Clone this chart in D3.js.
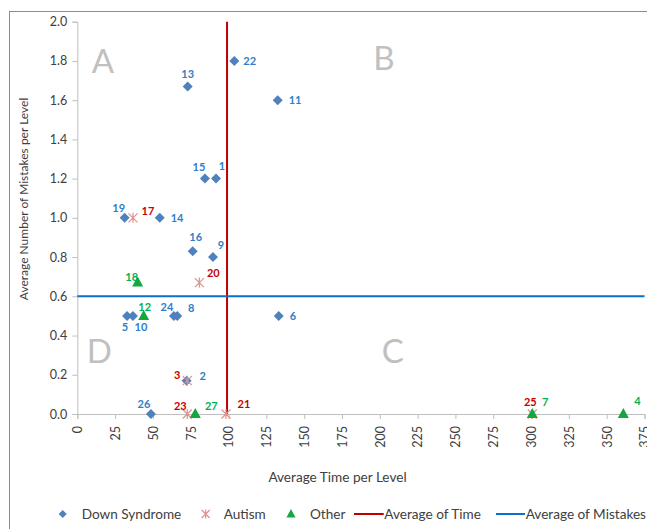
<!DOCTYPE html>
<html><head><meta charset="utf-8">
<script src="https://cdn.jsdelivr.net/npm/d3@7"></script>
<style>body{margin:0;background:#fff}svg{display:block;font-family:Lato,"Open Sans",sans-serif}</style>
</head><body><svg id="c" width="647" height="529"></svg>
<script>
// Data: [id, avgTime, avgMistakes]
const downSyndrome = [
  [22,103.8,1.80],[13,73,1.67],[11,132.5,1.60],[15,84.4,1.20],[1,91.7,1.20],
  [19,31.3,1.00],[14,54.5,1.00],[16,76.3,0.83],[9,89.7,0.80],[5,32.9,0.50],
  [10,36.8,0.50],[24,63.9,0.50],[8,66.1,0.50],[6,133.2,0.50],[2,72.3,0.17],[26,48.7,0.00]
];
const autism = [[17,36.8,1.00],[20,80.7,0.67],[3,72.7,0.17],[23,72.7,0.00],[21,98.3,0.00],[25,300.8,0.00]];
const other = [[18,39.9,0.67],[12,43.9,0.50],[27,78,0.00],[7,300.8,0.00],[4,361,0.00]];
const averageTime = 99;
const averageMistakes = 0.6;
const xTicks = d3.range(0,376,25);
const yTicks = [0,0.2,0.4,0.6,0.8,1.0,1.2,1.4,1.6,1.8,2.0];
const quadrants = [["A",17,1.795],["B",202.8,1.815],["C",208.5,0.32],["D",14.5,0.32]];
// label layout offsets (pixels) by id
const labelOffsets = {22:[9,0,'start'],13:[0,-12,'middle'],11:[11,0,'start'],15:[-6,-11,'middle'],1:[6,-12,'middle'],
 19:[-6,-10,'middle'],14:[11,0,'start'],16:[3,-14,'middle'],9:[8,-12,'middle'],5:[-2,11,'middle'],10:[8,11,'middle'],
 24:[-7,-9,'middle'],8:[14,-8,'middle'],6:[11,0,'start'],2:[16,-5,'middle'],26:[-7,-10,'middle'],
 17:[15,-7,'middle'],20:[14,-9,'middle'],3:[-10,-6,'middle'],23:[-7,-8,'middle'],21:[18,-10,'middle'],25:[-2,-12,'middle'],
 18:[-6,-5,'middle'],12:[1,-9,'middle'],27:[16,-8,'middle'],7:[13,-12,'middle'],4:[14,-13,'middle']};

const svg = d3.select("#c");
const x = d3.scaleLinear().domain([0,375]).range([77.3,644.5]);
const y = d3.scaleLinear().domain([0,2]).range([414,21.7]);

// outer chart border
svg.append("rect").attr("x",9.5).attr("y",11.5).attr("width",700).attr("height",600)
  .attr("fill","none").attr("stroke","#8c8c8c");

// axes
const gy = svg.append("g").attr("transform",`translate(${x(0)},0)`)
  .call(d3.axisLeft(y).tickValues(yTicks).tickFormat(d3.format(".1f")).tickSize(5).tickPadding(5));
const gx = svg.append("g").attr("transform",`translate(0,${y(0)})`)
  .call(d3.axisBottom(x).tickValues(xTicks).tickSize(5));
[gx,gy].forEach(g=>{
  g.select(".domain").attr("stroke","#bfbfbf");
  g.selectAll(".tick line").attr("stroke","#bfbfbf");
  g.selectAll("text").attr("fill","#404040").style("font-size","12.5px").style("font-family","Lato, sans-serif");
});
gx.selectAll("text").attr("transform","rotate(-90)").attr("x",-12).attr("y",0).attr("dy","0.35em").style("text-anchor","end");

// quadrant letters
svg.selectAll("text.q").data(quadrants).join("text").attr("class","q")
  .attr("x",d=>x(d[1])).attr("y",d=>y(d[2])).attr("dy","0.35em").attr("text-anchor","middle")
  .attr("fill","#c0c0c0").style("font-size","33px").text(d=>d[0]);

// average lines
svg.append("line").attr("x1",x(averageTime)).attr("x2",x(averageTime)).attr("y1",y(0)).attr("y2",y(2))
  .attr("stroke","#c00000").attr("stroke-width",2);
svg.append("line").attr("x1",x(0)).attr("x2",x(375)).attr("y1",y(averageMistakes)).attr("y2",y(averageMistakes))
  .attr("stroke","#0a70c8").attr("stroke-width",2);

// markers
svg.selectAll("path.ds").data(downSyndrome).join("path").attr("class","ds")
  .attr("d","M0,-5L5,0L0,5L-5,0Z")
  .attr("transform",d=>`translate(${x(d[1])},${y(d[2])})`).attr("fill","#4f81bd");
svg.selectAll("path.au").data(autism).join("path").attr("class","au")
  .attr("d","M-4.5,-4.5L4.5,4.5M-4.5,4.5L4.5,-4.5M0,-5L0,5")
  .attr("transform",d=>`translate(${x(d[1])},${y(d[2])})`).attr("stroke","#e0908e").attr("stroke-width",1.2).attr("fill","none");
svg.selectAll("path.ot").data(other).join("path").attr("class","ot")
  .attr("d","M0,-6L5.5,4L-5.5,4Z")
  .attr("transform",d=>`translate(${x(d[1])},${y(d[2])})`).attr("fill","#12a83e");

// data labels
function labels(data, color){
  svg.append("g").selectAll("text").data(data).join("text")
    .attr("x",d=>x(d[1])+labelOffsets[d[0]][0]).attr("y",d=>y(d[2])+labelOffsets[d[0]][1])
    .attr("dy","0.35em").attr("text-anchor",d=>labelOffsets[d[0]][2])
    .attr("fill",color).style("font-size","11px").style("font-weight","bold").text(d=>d[0]);
}
labels(downSyndrome,"#2f7ec8");
labels(autism,"#c80000");
labels(other,"#00b050");

// axis titles
svg.append("text").attr("transform","translate(24,199) rotate(-90)").attr("text-anchor","middle").attr("dy","0.35em")
  .attr("fill","#404040").style("font-size","12px").text("Average Number of Mistakes per Level");
svg.append("text").attr("x",337.5).attr("y",477).attr("text-anchor","middle").attr("dy","0.35em")
  .attr("fill","#404040").style("font-size","13.6px").text("Average Time per Level");

// legend
const ly = 514;
const lg = svg.append("g").style("font-size","13.6px").attr("fill","#404040");
lg.append("path").attr("d","M0,-4L4,0L0,4L-4,0Z").attr("transform",`translate(62.7,${ly})`).attr("fill","#4f81bd");
lg.append("text").attr("x",81.7).attr("y",ly).attr("dy","0.35em").text("Down Syndrome");
lg.append("path").attr("d","M-4,-4L4,4M-4,4L4,-4M0,-4.5L0,4.5").attr("transform",`translate(205.7,${ly})`).attr("stroke","#e0908e").attr("stroke-width",1.2);
lg.append("text").attr("x",223.7).attr("y",ly).attr("dy","0.35em").text("Autism");
lg.append("path").attr("d","M0,-5L4.5,3.5L-4.5,3.5Z").attr("transform",`translate(291,${ly})`).attr("fill","#12a83e");
lg.append("text").attr("x",310).attr("y",ly).attr("dy","0.35em").text("Other");
lg.append("line").attr("x1",354).attr("x2",383.7).attr("y1",ly).attr("y2",ly).attr("stroke","#c00000").attr("stroke-width",2);
lg.append("text").attr("x",384.3).attr("y",ly).attr("dy","0.35em").text("Average of Time");
lg.append("line").attr("x1",496).attr("x2",525).attr("y1",ly).attr("y2",ly).attr("stroke","#0a70c8").attr("stroke-width",2);
lg.append("text").attr("x",525.7).attr("y",ly).attr("dy","0.35em").text("Average of Mistakes");
</script></body></html>
